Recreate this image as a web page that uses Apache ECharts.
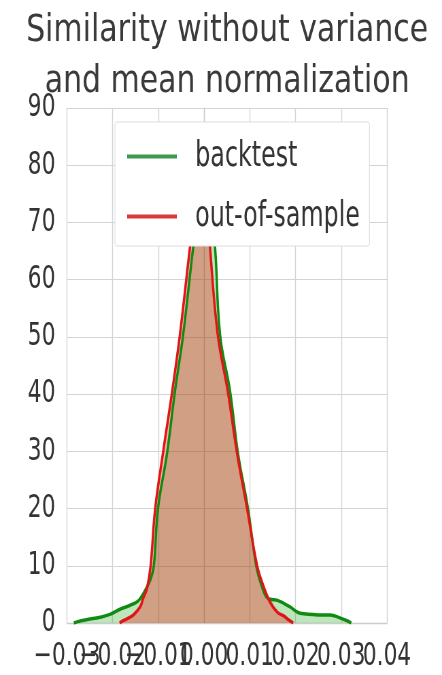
<!DOCTYPE html>
<html><head><meta charset="utf-8">
<script src="https://cdn.jsdelivr.net/npm/echarts@6/dist/echarts.min.js"></script>
<style>
html,body{margin:0;padding:0;width:442px;height:675px;overflow:hidden;background:#fff;}
#chart{width:650px;height:675px;transform:scaleX(0.68);transform-origin:0 0;}
</style></head><body><div id="chart"></div>
<script>
const titleLines = ['Similarity without variance', 'and mean normalization'];
const seriesNames = ['backtest', 'out-of-sample'];

const backtestX = [-0.0285, -0.0278, -0.0255, -0.0228, -0.0206, -0.0184, -0.0162, -0.0145, -0.0134, -0.0118, -0.0110, -0.0101, -0.0081, -0.0064, -0.0046, -0.0024, -0.0010, 0.0002, 0.0013, 0.0024, 0.0035, 0.0057, 0.0074, 0.0096, 0.0114, 0.0126, 0.0137, 0.0148, 0.0159, 0.0175, 0.0188, 0.0210, 0.0238, 0.0254, 0.0276, 0.0297, 0.0315, 0.0322];
const backtestY = [0, 0.2, 0.6, 1.0, 1.5, 2.4, 3.1, 3.8, 5.0, 7.5, 10, 20, 29.7, 40.4, 50.3, 65.6, 74, 77, 74, 65.6, 50.3, 40.4, 29.7, 20, 10, 6.5, 4.5, 4.1, 4.0, 3.4, 2.8, 1.7, 1.5, 1.4, 1.4, 0.9, 0.3, 0];

const oosX = [-0.0185, -0.0177, -0.0165, -0.0155, -0.0140, -0.0133, -0.0125, -0.0117, -0.0107, -0.0090, -0.0070, -0.0053, -0.0031, -0.0015, -0.0005, 0.0004, 0.0013, 0.0030, 0.0052, 0.0072, 0.0094, 0.0116, 0.0129, 0.0144, 0.0160, 0.0175, 0.0184, 0.0195];
const oosY = [0, 0.4, 0.9, 1.4, 2.8, 4.4, 6.0, 10, 20, 29.7, 40.4, 50.3, 65.6, 76, 80, 77, 65.6, 50.3, 40.4, 29.7, 20, 10, 6.6, 3.7, 1.9, 1.2, 0.6, 0];

const xMin = -0.03, xMax = 0.04, xStep = 0.01;
const xLabelsOdd = [-0.03, -0.01, 0.01, 0.03];
const xLabelsEven = [-0.02, 0.00, 0.02, 0.04];
const yMin = 0, yMax = 90, yStep = 10;

const zip = (xs, ys) => xs.map((x, i) => [x, ys[i]]);
const chart = echarts.init(document.getElementById('chart'));
const font = 'DejaVu Sans';
const fmt = v => v.toFixed(2).replace('-', '\u2212');

const labelBase = { fontFamily: font, fontSize: 32, color: '#333', margin: 18,
  showMinLabel: true, showMaxLabel: true, hideOverlap: false, formatter: fmt };

chart.setOption({
  animation: false,
  backgroundColor: '#fff',
  graphic: [
    { type: 'text', x: 334, y: 31, scaleX: 1.19, z: 10,
      style: { text: titleLines[0], font: '37px "DejaVu Sans"', fill: '#3a3a3a', textAlign: 'center', textVerticalAlign: 'middle' } },
    { type: 'text', x: 334, y: 82, scaleX: 1.19, z: 10,
      style: { text: titleLines[1], font: '37px "DejaVu Sans"', fill: '#3a3a3a', textAlign: 'center', textVerticalAlign: 'middle' } }
  ],
  grid: { left: 98.5, right: 81, top: 108, bottom: 52, containLabel: false },
  legend: {
    orient: 'vertical', left: 169, top: 122,
    padding: [17, 14, 12, 18],
    icon: 'rect',
    itemWidth: 73, itemHeight: 4, itemGap: 25,
    backgroundColor: '#fff', borderColor: '#dddddd', borderWidth: 1, borderRadius: 3,
    textStyle: { fontFamily: font, fontSize: 35, color: '#333', padding: [0, 0, 0, 22], lineHeight: 35 },
    data: seriesNames
  },
  xAxis: [
    {
      type: 'value', min: xMin, max: xMax, interval: xStep, position: 'bottom', offset: 0,
      axisLine: { show: true, lineStyle: { color: '#cccccc', width: 1.4 } },
      axisTick: { show: false },
      splitLine: { show: true, lineStyle: { color: '#d4d4d4', width: 1.4 } },
      axisLabel: Object.assign({}, labelBase, { customValues: xLabelsOdd })
    },
    {
      type: 'value', min: xMin, max: xMax, interval: xStep, position: 'bottom', offset: 0,
      axisLine: { show: false }, axisTick: { show: false }, splitLine: { show: false },
      axisLabel: Object.assign({}, labelBase, { customValues: xLabelsEven })
    }
  ],
  yAxis: {
    type: 'value', min: yMin, max: yMax, interval: yStep,
    axisLine: { show: true, lineStyle: { color: '#cccccc', width: 1.4 } },
    axisTick: { show: false },
    splitLine: { show: true, lineStyle: { color: '#d4d4d4', width: 1 } },
    axisLabel: { fontFamily: font, fontSize: 32, color: '#333', margin: 17, showMinLabel: true, showMaxLabel: true }
  },
  series: [
    { name: seriesNames[0], type: 'line', xAxisIndex: 0, data: zip(backtestX, backtestY), symbol: 'none',
      smooth: 0.4,
      lineStyle: { color: '#108a10', width: 3.5 }, itemStyle: { color: '#3d9a4d' },
      areaStyle: { color: '#00a000', opacity: 0.26 } },
    { name: seriesNames[1], type: 'line', xAxisIndex: 0, data: zip(oosX, oosY), symbol: 'none',
      smooth: 0.4,
      lineStyle: { color: '#e01515', width: 3.5 }, itemStyle: { color: '#d83a3a' },
      areaStyle: { color: '#ff0000', opacity: 0.3 } }
  ]
});
</script></body></html>
